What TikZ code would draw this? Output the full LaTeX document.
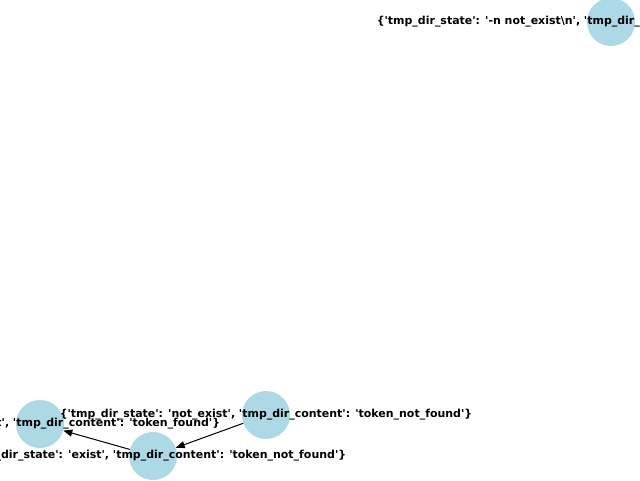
\documentclass[tikz,border=0pt]{standalone}
\usepackage{fontspec}
\newfontfamily\lblfont{DejaVu Sans}[Ligatures=ResetAll]
\usetikzlibrary{arrows.meta}
\newcommand\sq{\char"0027\relax}
\definecolor{nodeblue}{HTML}{ADD8E6}
\begin{document}
\begin{tikzpicture}[x=1pt,y=-1pt,
  state/.style={circle,fill=nodeblue,draw=none,minimum size=48pt,inner sep=0pt},
  lbl/.style={font=\lblfont\bfseries\fontsize{10.97}{13}\selectfont,inner sep=0pt,text=black},
  edge/.style={draw=black,line width=1pt,-{Triangle[length=9pt,width=7pt]},shorten >=0pt}]
\useasboundingbox (0,0) rectangle (640,480);
\clip (0,0) rectangle (640,480);
\node[state] (A) at (611,22) {};
\node[state] (B) at (266,415) {};
\node[state] (C) at (153,456) {};
\node[state] (D) at (40,424) {};
\draw[edge] (B) -- (C);
\draw[edge] (C) -- (D);
\node[lbl] (lA) at (A.center) {\{\sq tmp\_dir\_state\sq: \sq-n not\_exist\textbackslash n\sq, \sq tmp\_dir\_content\sq: \sq-n token\_not\_found\textbackslash n\sq\}};
\node[lbl] (lB) at (B.center) {\{\sq tmp\_dir\_state\sq: \sq not\_exist\sq, \sq tmp\_dir\_content\sq: \sq token\_not\_found\sq\}};
\node[lbl] (lC) at (C.center) {\{\sq tmp\_dir\_state\sq: \sq exist\sq, \sq tmp\_dir\_content\sq: \sq token\_not\_found\sq\}};
\node[lbl] (lD) at (D.center) {\{\sq tmp\_dir\_state\sq: \sq exist\sq, \sq tmp\_dir\_content\sq: \sq token\_found\sq\}};
\end{tikzpicture}
\end{document}
